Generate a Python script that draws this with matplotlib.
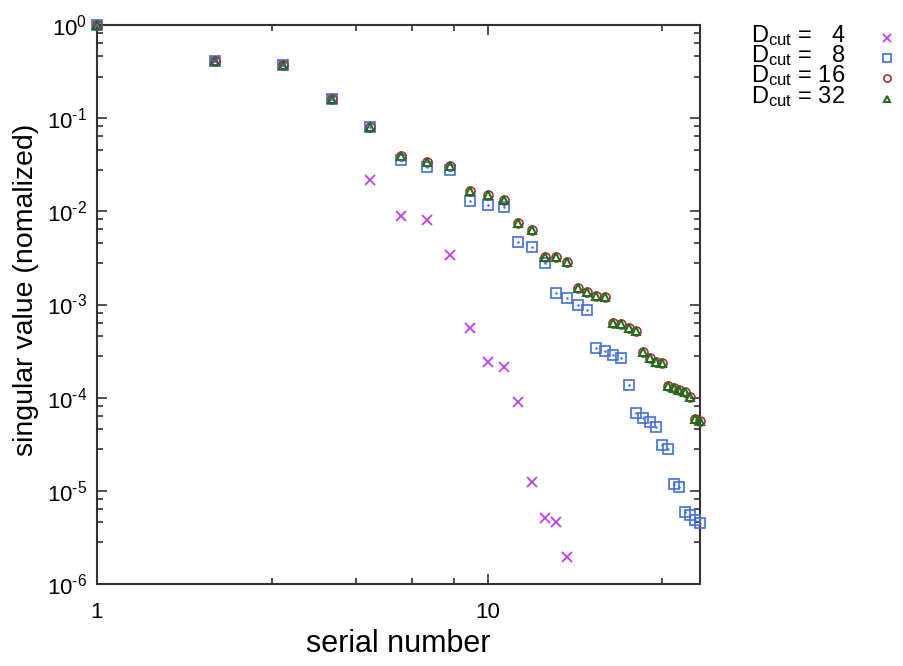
import numpy as np
import matplotlib
matplotlib.use("Agg")
import matplotlib.pyplot as plt
from matplotlib.ticker import FixedLocator, FixedFormatter, FuncFormatter, NullFormatter
from matplotlib.lines import Line2D

plt.rcParams['font.family'] = ['Liberation Sans', 'DejaVu Sans']
plt.rcParams['mathtext.fontset'] = 'custom'
plt.rcParams['mathtext.rm'] = 'Liberation Sans'
plt.rcParams['mathtext.it'] = 'Liberation Sans:italic'

# normalized singular values per bond-dimension cutoff
sv_d4 = [1.0, 0.414, 0.372, 0.159, 0.0217, 0.00902, 0.00807, 0.00343, 0.000564,
         0.00024, 0.000213, 9.0e-5, 1.24e-5, 5.15e-6, 4.67e-6, 1.95e-6]
sv_d8 = [1.0, 0.414, 0.372, 0.159, 0.081, 0.0353, 0.0301, 0.0278, 0.0129, 0.0117,
         0.0110, 0.00469, 0.00418, 0.00277, 0.00132, 0.00117, 0.00098, 0.000866,
         0.000341, 0.000315, 0.00029, 0.000269, 0.000136, 6.9e-5, 6.1e-5, 5.44e-5,
         4.89e-5, 3.08e-5, 2.79e-5, 1.17e-5, 1.11e-5, 5.97e-6, 5.47e-6, 4.87e-6, 4.55e-6]
sv_d16 = [1.0, 0.414, 0.372, 0.159, 0.081, 0.0395, 0.0341, 0.0307, 0.0167, 0.0150,
          0.0132, 0.00755, 0.0063, 0.00326, 0.00321, 0.00288, 0.00150, 0.00137,
          0.00124, 0.00121, 0.000629, 0.00062, 0.000563, 0.00052, 0.000307, 0.000265,
          0.00024, 0.000238, 0.000132, 0.000127, 0.000122, 0.000116, 0.000102, 5.86e-5, 5.66e-5]
sv_d32 = [1.0, 0.414, 0.372, 0.159, 0.081, 0.0395, 0.0341, 0.0307, 0.0167, 0.0150,
          0.0132, 0.00755, 0.0063, 0.00326, 0.00321, 0.00288, 0.00150, 0.00137,
          0.00124, 0.00121, 0.000629, 0.00062, 0.000563, 0.00052, 0.000307, 0.000265,
          0.00024, 0.000238, 0.000132, 0.000127, 0.000122, 0.000116, 0.000102, 5.86e-5, 5.66e-5]
legend_labels = [r'$\mathregular{D_{cut}}$ =   4', r'$\mathregular{D_{cut}}$ =   8',
                 r'$\mathregular{D_{cut}}$ = 16', r'$\mathregular{D_{cut}}$ = 32']
x_tick_labels = ['1', '10']

c_d4 = '#c040f0'
c_d8 = '#3f6fe0'
c_d16 = '#a83232'
c_d32 = '#1f6e1f'

fig = plt.figure(figsize=(9.04, 6.66), dpi=100)
ax = fig.add_axes([97/904, 1 - 584/666, 603/904, 559/666])

def idx(v):
    return np.arange(1, len(v) + 1)

styles = [
    dict(marker='x', ms=7, mew=1.3, color=c_d4, mfc='none'),
    dict(marker='s', ms=7, mew=1.2, color=c_d8, mfc='none'),
    dict(marker='o', ms=6.5, mew=1.2, color=c_d16, mfc='none'),
    dict(marker='^', ms=6, mew=1.5, color=c_d32, mfc='none'),
]
series = [sv_d4, sv_d8, sv_d16, sv_d32]
for vals, st in zip(series, styles):
    ax.plot(idx(vals), vals, ls='none', clip_on=False, zorder=3, **st)
# centre dots of the open squares
ax.plot(idx(sv_d8), sv_d8, ls='none', marker='.', ms=1.6, color=c_d8, clip_on=False, zorder=3)

ax.set_xscale('log')
ax.set_yscale('log')
ax.set_xlim(1, 35)
ax.set_ylim(1e-6, 1)

# gnuplot-style linear subdivision of each decade into five intervals
xminor = [1 + 1.8 * j for j in range(1, 5)] + [10 + 18 * j for j in range(1, 5)]
ax.xaxis.set_major_locator(FixedLocator([1, 10]))
ax.xaxis.set_major_formatter(FixedFormatter(x_tick_labels))
ax.xaxis.set_minor_locator(FixedLocator([v for v in xminor if v < 35]))
ax.xaxis.set_minor_formatter(NullFormatter())
yminor = [10.0 ** k * (1 + 1.8 * j) for k in range(-6, 0) for j in range(1, 5)]
ax.yaxis.set_major_locator(FixedLocator([10.0 ** k for k in range(-6, 1)]))
ax.yaxis.set_major_formatter(FuncFormatter(
    lambda v, p: r'$\mathregular{10^{\text{%d}}}$' % round(np.log10(v))))
ax.yaxis.set_minor_locator(FixedLocator(yminor))
ax.yaxis.set_minor_formatter(NullFormatter())

for s in ax.spines.values():
    s.set_color('#333333')
    s.set_linewidth(1.5)
ax.tick_params(which='both', direction='in', top=True, right=True, color='#333333', width=1.2)
ax.tick_params(which='major', length=7, labelsize=16)
ax.tick_params(axis='x', which='major', pad=13)
ax.tick_params(axis='y', which='major', pad=7)
ax.tick_params(which='minor', length=4)

ax.set_xlabel('serial number', fontsize=22, labelpad=4)
ax.set_ylabel('singular value (nomalized)', fontsize=20.5, va='center')
ax.yaxis.set_label_coords(-0.118, 0.526)

# key placed to the right of the frame, text first then symbol
row_base = [42, 62, 82, 103]
for lab, st, yb in zip(legend_labels, styles, row_base):
    fig.text(845/904, 1 - yb/666, lab, ha='right', va='baseline', fontsize=17)
    fig.add_artist(Line2D([887/904], [1 - (yb - 4)/666], ls='none', transform=fig.transFigure,
                          **{k: (v * 0.8 if k == 'ms' else v) for k, v in st.items()}))

fig.savefig('out.png', dpi=100)
